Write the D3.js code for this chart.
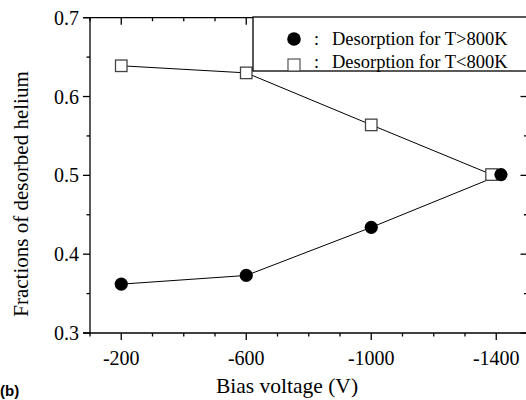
<!DOCTYPE html>
<html>
<head>
<meta charset="utf-8">
<script src="https://cdn.jsdelivr.net/npm/d3@7"></script>
<style>
  body { margin: 0; background: #fff; }
  svg { display: block; }
  .serif { font-family: "Liberation Serif", "DejaVu Serif", serif; }
  .sans { font-family: "Liberation Sans", "DejaVu Sans", sans-serif; }
</style>
</head>
<body>
<svg id="chart" width="526" height="400"></svg>
<script>
// bias voltages (V), last point nudged apart like in the figure
const biasLow = [-200, -600, -1000, -1385];
const fracLow = [0.639, 0.630, 0.564, 0.501];   // T<800K, open squares
const biasHigh = [-200, -600, -1000, -1415];
const fracHigh = [0.362, 0.373, 0.434, 0.501];  // T>800K, filled circles

const xTicks = [-200, -600, -1000, -1400];
const yTicks = [0.3, 0.4, 0.5, 0.6, 0.7];
const legendLabels = ["Desorption for T>800K", "Desorption for T<800K"];

const svg = d3.select("#chart");

const x = d3.scaleLinear().domain([-100, -1500]).range([90, 527.5]);
const y = d3.scaleLinear().domain([0.3, 0.7]).range([333, 17.7]);

const minorX = d3.range(-100, -1501, -100);
const minorY = d3.range(0.3, 0.7001, 0.05);

// frame
const g = svg.append("g").attr("stroke", "#000").attr("stroke-width", 1.3);
g.append("line").attr("x1", 83).attr("x2", 530).attr("y1", y(0.7)).attr("y2", y(0.7));
g.append("line").attr("x1", 83).attr("x2", 530).attr("y1", y(0.3)).attr("y2", y(0.3));
g.append("line").attr("x1", x(-100)).attr("x2", x(-100)).attr("y1", y(0.7)).attr("y2", y(0.3));
g.append("line").attr("x1", x(-1500)).attr("x2", x(-1500)).attr("y1", y(0.7)).attr("y2", y(0.3));

// x ticks: bottom outward, top inward
minorX.forEach(v => {
  const major = xTicks.includes(v);
  const len = major ? 7 : 3.5;
  g.append("line").attr("x1", x(v)).attr("x2", x(v)).attr("y1", y(0.3)).attr("y2", y(0.3) + len);
  g.append("line").attr("x1", x(v)).attr("x2", x(v)).attr("y1", y(0.7)).attr("y2", y(0.7) + len);
});
// y ticks: left outward, right inward
minorY.forEach(v => {
  const major = yTicks.some(t => Math.abs(t - v) < 1e-6);
  const len = major ? 7 : 3.5;
  g.append("line").attr("x1", x(-100) - len).attr("x2", x(-100)).attr("y1", y(v)).attr("y2", y(v));
  g.append("line").attr("x1", x(-1500) - len).attr("x2", x(-1500)).attr("y1", y(v)).attr("y2", y(v));
});

svg.selectAll(".xl").data(xTicks).join("text")
  .attr("class", "serif")
  .attr("x", d => x(d)).attr("y", 365)
  .attr("text-anchor", "middle")
  .style("font-size", "20px")
  .text(d => d);

svg.selectAll(".yl").data(yTicks).join("text")
  .attr("class", "serif")
  .attr("x", 79).attr("y", d => y(d) + 7)
  .attr("text-anchor", "end")
  .style("font-size", "20px")
  .text(d => d.toFixed(1));

svg.append("text")
  .attr("class", "serif")
  .attr("x", 287).attr("y", 393)
  .attr("text-anchor", "middle")
  .style("font-size", "21.5px")
  .text("Bias voltage (V)");

svg.append("text")
  .attr("class", "serif")
  .attr("transform", "translate(28,194) rotate(-90)")
  .attr("text-anchor", "middle")
  .style("font-size", "21px")
  .text("Fractions of desorbed helium");

svg.append("text")
  .attr("class", "sans")
  .attr("x", 0).attr("y", 396)
  .style("font-weight", "bold").style("font-size", "15px")
  .text("(b)");

// series
const line = d3.line().x(d => x(d[0])).y(d => y(d[1]));
const low = d3.zip(biasLow, fracLow);
const high = d3.zip(biasHigh, fracHigh);

svg.append("path").datum(low).attr("d", line)
  .attr("fill", "none").attr("stroke", "#000").attr("stroke-width", 1);
svg.append("path").datum(high).attr("d", line)
  .attr("fill", "none").attr("stroke", "#000").attr("stroke-width", 1);

const sq = 11.5;
svg.selectAll(".sq").data(low).join("rect")
  .attr("x", d => x(d[0]) - sq / 2).attr("y", d => y(d[1]) - sq / 2)
  .attr("width", sq).attr("height", sq)
  .attr("fill", "#fff").attr("stroke", "#444").attr("stroke-width", 1.3);

svg.selectAll(".ci").data(high).join("circle")
  .attr("cx", d => x(d[0])).attr("cy", d => y(d[1]))
  .attr("r", 6.6).attr("fill", "#000");

// legend
const lg = svg.append("g");
lg.append("rect").attr("x", 253).attr("y", 17).attr("width", 290).attr("height", 54)
  .attr("fill", "#fff").attr("stroke", "#000").attr("stroke-width", 1.3);
lg.append("circle").attr("cx", 294).attr("cy", 39).attr("r", 6.8).attr("fill", "#000");
lg.append("rect").attr("x", 288).attr("y", 59).attr("width", 12).attr("height", 12)
  .attr("fill", "#fff").attr("stroke", "#444").attr("stroke-width", 1.1);
legendLabels.forEach((t, i) => {
  const yy = 45 + i * 23;
  lg.append("text").attr("class", "serif").attr("x", 314).attr("y", yy)
    .style("font-size", "18px").text(":");
  lg.append("text").attr("class", "serif").attr("x", 332).attr("y", yy)
    .style("font-size", "18.5px").text(t);
});
</script>
</body>
</html>
